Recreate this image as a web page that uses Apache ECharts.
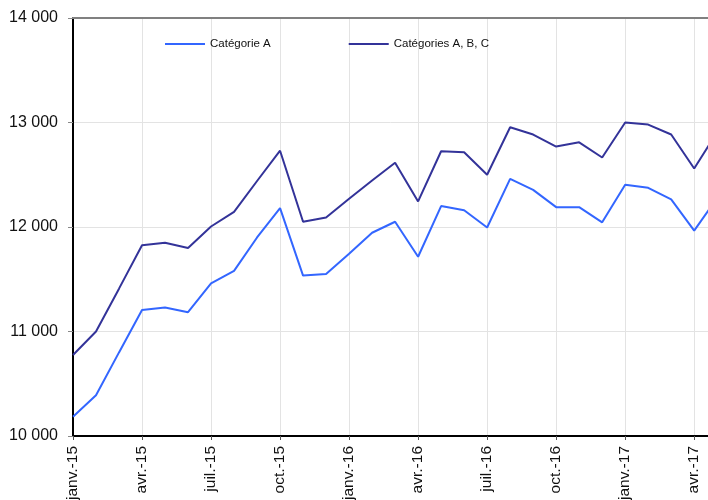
<!DOCTYPE html>
<html>
<head>
<meta charset="utf-8">
<script src="https://cdn.jsdelivr.net/npm/echarts@6.0.0/dist/echarts.min.js"></script>
<style>
  html, body { margin: 0; padding: 0; background: #fff; overflow: hidden; }
  #chart { width: 708px; height: 500px; }
</style>
</head>
<body>
<div id="chart"></div>
<script>
// monthly points, janv.-15 .. mai-17 (the last one falls just past the right edge)
const months = [
  'janv.-15', 'févr.-15', 'mars-15', 'avr.-15', 'mai-15', 'juin-15', 'juil.-15', 'août-15', 'sept.-15', 'oct.-15', 'nov.-15', 'déc.-15',
  'janv.-16', 'févr.-16', 'mars-16', 'avr.-16', 'mai-16', 'juin-16', 'juil.-16', 'août-16', 'sept.-16', 'oct.-16', 'nov.-16', 'déc.-16',
  'janv.-17', 'févr.-17', 'mars-17', 'avr.-17', 'mai-17'
];
const tickLabels = ['janv.-15', 'avr.-15', 'juil.-15', 'oct.-15', 'janv.-16', 'avr.-16', 'juil.-16', 'oct.-16', 'janv.-17', 'avr.-17'];

const catA = [10185, 10390, 10800, 11205, 11230, 11185, 11460, 11580, 11900, 12180, 11535, 11550,
  11745, 11945, 12050, 11715, 12200, 12160, 11995, 12460, 12355, 12190, 12190, 12045,
  12405, 12375, 12265, 11965, 12280];
const catABC = [10775, 11000, 11410, 11825, 11850, 11800, 12005, 12145, 12440, 12730, 12050, 12090,
  12270, 12445, 12615, 12245, 12725, 12715, 12500, 12955, 12885, 12770, 12810, 12665,
  13000, 12980, 12885, 12560, 12910];

const xMax = 27.6; // the view stops a bit after avr.-17

const chart = echarts.init(document.getElementById('chart'));

const fmtThousands = (v) => String(v).replace(/\B(?=(\d{3})+(?!\d))/g, ' ');

const option = {
  animation: false,
  textStyle: { fontFamily: 'Liberation Sans, Arial, sans-serif' },
  legend: {
    left: 165,
    top: 38,
    padding: 0,
    itemWidth: 40,
    itemHeight: 2,
    itemGap: 78,
    icon: 'rect',
    textStyle: { fontSize: 11.5, color: '#111' },
    data: ['Catégorie A', 'Catégories A, B, C']
  },
  // labels run off the bottom edge in the original, so don't let the grid shrink
  grid: { left: 73, right: 0, top: 18, height: 418, outerBoundsMode: 'none', containLabel: false },
  xAxis: [
    {
      type: 'value',
      min: 0,
      max: xMax,
      interval: 3,
      position: 'bottom',
      axisLine: { lineStyle: { color: '#000', width: 2 } },
      axisTick: { length: 4, lineStyle: { color: '#555' } },
      axisLabel: {
        rotate: 90,
        fontSize: 15.5,
        color: '#111',
        margin: 10,
        showMaxLabel: false,
        formatter: (v) => (v % 3 === 0 ? tickLabels[v / 3] || '' : '')
      },
      splitLine: { show: true, lineStyle: { color: '#e3e3e3', width: 1 } }
    },
    {
      type: 'value',
      min: 0,
      max: xMax,
      position: 'top',
      axisLine: { show: true, lineStyle: { color: '#808080', width: 2 } },
      axisTick: { show: false },
      axisLabel: { show: false },
      splitLine: { show: false }
    }
  ],
  yAxis: {
    type: 'value',
    min: 10000,
    max: 14000,
    interval: 1000,
    axisLine: { show: true, lineStyle: { color: '#000', width: 2 } },
    axisTick: { show: true, length: 5, lineStyle: { color: '#888' } },
    axisLabel: { fontSize: 16, color: '#111', margin: 15, formatter: fmtThousands },
    splitLine: { lineStyle: { color: '#e3e3e3', width: 1 } }
  },
  series: [
    {
      name: 'Catégorie A',
      type: 'line',
      xAxisIndex: 0,
      showSymbol: false,
      lineStyle: { color: '#3366ff', width: 2 },
      itemStyle: { color: '#3366ff' },
      data: catA.map((v, i) => [i, v])
    },
    {
      name: 'Catégories A, B, C',
      type: 'line',
      xAxisIndex: 0,
      showSymbol: false,
      lineStyle: { color: '#333399', width: 2 },
      itemStyle: { color: '#333399' },
      data: catABC.map((v, i) => [i, v])
    }
  ]
};

chart.setOption(option);
window.addEventListener('resize', () => chart.resize());
</script>
</body>
</html>
